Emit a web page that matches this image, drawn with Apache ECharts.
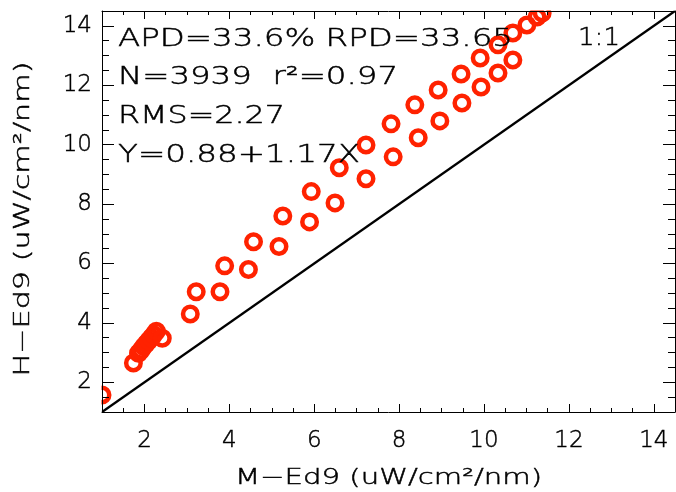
<!DOCTYPE html>
<html>
<head>
<meta charset="utf-8">
<title>M-Ed9 vs H-Ed9</title>
<script src="https://cdn.jsdelivr.net/npm/echarts@6/dist/echarts.min.js"></script>
<style>
html,body{margin:0;padding:0;background:#fff}
#chart{width:676px;height:492px}
</style>
</head>
<body>
<div id="chart"></div>
<script>
// values
var mEd9 = [1.0, 1.74, 1.86, 1.92, 1.98, 2.04, 2.10, 2.16, 2.22, 2.28, 2.42,
            3.08, 3.22, 3.78, 3.89, 4.45, 4.57, 5.17, 5.26, 5.89, 5.93,
            6.49, 6.59, 7.22, 7.22, 7.81, 7.86, 8.37, 8.45, 8.92, 8.96,
            9.46, 9.48, 9.91, 9.93, 10.33, 10.33, 10.68, 10.68, 11.01, 11.25, 11.37];
var hEd9 = [1.57, 2.65, 2.98, 3.08, 3.20, 3.30, 3.40, 3.50, 3.60, 3.72, 3.48,
            4.30, 5.05, 5.05, 5.92, 5.80, 6.73, 6.57, 7.60, 7.40, 8.42,
            8.04, 9.22, 8.85, 9.99, 10.70, 9.59, 11.34, 10.23, 11.84, 10.80,
            12.38, 11.40, 12.92, 11.94, 13.36, 12.41, 13.76, 12.85, 14.03, 14.30, 14.43];
var oneToOne = [1, 14.5];
var axisMin = 1, axisMax = 14.5;
var majorTicks = [2, 4, 6, 8, 10, 12, 14];
var minorTicks = [1.5, 2.5, 3, 3.5, 4.5, 5, 5.5, 6.5, 7, 7.5, 8.5, 9, 9.5,
                  10.5, 11, 11.5, 12.5, 13, 13.5, 14.5];
var statLines = ['APD=33.6% RPD=33.65', 'N=3939  r\u00b2=0.97', 'RMS=2.27', 'Y=0.88+1.17X'];
var xTitle = 'M\u2212Ed9 (uW/cm\u00b2/nm)';
var yTitle = 'H\u2212Ed9 (uW/cm\u00b2/nm)';

var FONT = 'DejaVu Sans';
var WEIGHT = 300;
var chart = echarts.init(document.getElementById('chart'), null, {renderer: 'canvas'});

// stretch text horizontally to the width it has in the picture
var ctx = document.createElement('canvas').getContext('2d');
function stretch(str, size, width) {
    ctx.font = WEIGHT + ' ' + size + 'px "' + FONT + '"';
    return width / ctx.measureText(str).width;
}
function label(str, size, x, y, width, opts) {
    opts = opts || {};
    return {
        type: 'text', x: x, y: y, z: 20,
        rotation: opts.rotation || 0,
        scaleX: stretch(str, size, width),
        style: {
            text: str, fontSize: size, fontFamily: FONT, fontWeight: WEIGHT, fill: '#000',
            stroke: '#000', lineWidth: 0.45,
            align: opts.align || 'left', verticalAlign: 'middle'
        }
    };
}

function axisPair(dim, pos, majorLen, minorLen, showLabels) {
    var base = {
        type: 'value', position: pos, min: axisMin, max: axisMax, z: 10,
        splitLine: {show: false}
    };
    var major = Object.assign({}, base, {
        axisLine: {show: true, lineStyle: {color: '#000', width: 1}},
        axisTick: {show: true, inside: true, length: majorLen, customValues: majorTicks,
                   lineStyle: {color: '#000', width: 1}},
        axisLabel: showLabels ? {
            show: true, customValues: majorTicks, color: '#000', fontSize: 23,
            fontFamily: FONT, fontWeight: WEIGHT, margin: dim === 'x' ? 18 : 10,
            textBorderColor: '#000', textBorderWidth: 0.45
        } : {show: false}
    });
    var minor = Object.assign({}, base, {
        axisLine: {show: false},
        axisTick: {show: true, inside: true, length: minorLen, customValues: minorTicks,
                   lineStyle: {color: '#000', width: 1}},
        axisLabel: {show: false}
    });
    return [major, minor];
}

var xAxes = axisPair('x', 'bottom', 8, 4, true).concat(axisPair('x', 'top', 8, 4, false));
var yAxes = axisPair('y', 'left', 12, 7, true).concat(axisPair('y', 'right', 12, 7, false));

var option = {
    animation: false,
    backgroundColor: '#fff',
    grid: {left: 102, top: 11, right: 1, bottom: 80},
    xAxis: xAxes,
    yAxis: yAxes,
    series: [
        {
            type: 'line', data: [[oneToOne[0], oneToOne[0]], [oneToOne[1], oneToOne[1]]],
            symbol: 'none', z: 3,
            lineStyle: {color: '#000', width: 2.2}
        },
        {
            type: 'scatter', z: 2,
            data: mEd9.map(function (v, i) { return [v, hEd9[i]]; }),
            symbol: 'circle', symbolSize: 14.5,
            itemStyle: {color: 'rgba(0,0,0,0)', borderColor: '#ff2200', borderWidth: 4.5, opacity: 1}
        }
    ],
    graphic: {elements: [
        // keep the circles inside the frame
        {type: 'rect', z: 5, shape: {x: 0, y: 0, width: 101.5, height: 492}, style: {fill: '#fff'}},
        {type: 'rect', z: 5, shape: {x: 0, y: 0, width: 676, height: 10.5}, style: {fill: '#fff'}},
        label(statLines[0], 24, 118, 40, 395),
        label(statLines[1], 24, 118, 78, 280),
        label(statLines[2], 24, 118, 117, 167),
        label(statLines[3], 24, 118, 156, 242),
        label('1:1', 24, 578, 39, 42),
        label(xTitle, 21, 388.5, 479, 307, {align: 'center'}),
        label(yTitle, 21, 24, 219, 315, {align: 'center', rotation: Math.PI / 2})
    ]}
};
chart.setOption(option);
</script>
</body>
</html>
